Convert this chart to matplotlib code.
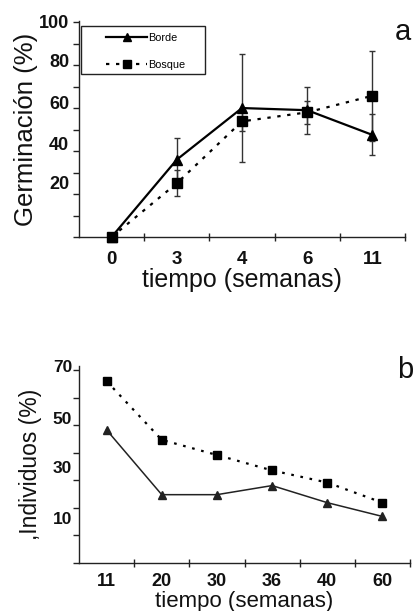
import matplotlib
matplotlib.use('Agg')
import matplotlib.pyplot as plt
from matplotlib.patches import Rectangle

plt.rcParams['font.family'] = ['Liberation Sans', 'DejaVu Sans']

# Panel a: germinación
semanas_a = ['0', '3', '4', '6', '11']
borde_a = [0, 36, 60, 59, 47.5]
bosque_a = [0, 25, 53.8, 58, 65.7]
err_borde_a = [0, 10, 25, 11, 9.5]
err_bosque_a = [0, 6, 4.5, 5.5, 21]

# Panel b: individuos
semanas_b = ['11', '20', '30', '36', '40', '60']
borde_b = [48.3, 24.8, 24.8, 28.1, 21.9, 16.9]
bosque_b = [66.0, 44.7, 39.2, 33.6, 29.2, 21.9]

# y tick labels sit a bit off the tick marks in the original
ylab_a = ['100', '80', '60', '40', '20']
ylab_a_pos = [100.5, 82, 62.5, 43.5, 25.5]
ylab_b = ['70', '50', '30', '10']
ylab_b_pos = [71.5, 52.5, 34.8, 16.4]

W, H = 413, 611
fig = plt.figure(figsize=(W / 100, H / 100), dpi=100)
ink = '#111111'


def px_axes(left, top, right, bottom):
    return fig.add_axes([left / W, 1 - bottom / H, (right - left) / W, (bottom - top) / H])


def style_axes(ax, n, ymax, ystep, ylabels, ylabel_pos, ysize, xsize, xpad, ypad):
    ax.spines['top'].set_visible(False)
    ax.spines['right'].set_visible(False)
    for s in ['left', 'bottom']:
        ax.spines[s].set_color('#222222')
        ax.spines[s].set_linewidth(1)
    ax.set_xlim(-0.5, n - 0.5)
    ax.set_ylim(0, ymax)
    # tick marks (minor) and labels (major, no marks)
    ax.set_xticks([i + 0.5 for i in range(n)], minor=True)
    ax.set_yticks(list(range(0, ymax + 1, ystep)), minor=True)
    ax.tick_params(axis='x', which='minor', direction='inout', length=6, width=1, color='#222222')
    ax.tick_params(axis='y', which='minor', direction='out', length=4, width=1, color='#222222')
    ax.set_yticks(ylabel_pos)
    ax.set_yticklabels(ylabels, fontsize=ysize, fontweight='bold', color=ink)
    ax.tick_params(axis='y', which='major', length=0, pad=ypad)
    ax.tick_params(axis='x', which='major', length=0, pad=xpad, labelsize=xsize)
    for t in ax.get_xticklabels():
        t.set_fontweight('bold')
        t.set_color(ink)


# ---- panel a ----
ax1 = px_axes(79, 21, 405, 237)
x_a = list(range(len(semanas_a)))
ax1.errorbar(x_a, borde_a, yerr=err_borde_a, color='black', lw=1.6, marker='^', ms=6.5,
             ecolor='#333333', elinewidth=1, capsize=2.5, capthick=1, clip_on=False, label='Borde', zorder=3)
ax1.errorbar(x_a, bosque_a, yerr=err_bosque_a, color='black', lw=1.6, ls=(0, (1.5, 3)), marker='s', ms=7,
             ecolor='#333333', elinewidth=1, capsize=2.5, capthick=1, clip_on=False, label='Bosque', zorder=3)
ax1.set_xticks(x_a)
ax1.set_xticklabels(semanas_a)
style_axes(ax1, len(semanas_a), 100, 10, ylab_a, ylab_a_pos, 13, 13.5, 10, 7)
ax1.set_xlabel('tiempo (semanas)', fontsize=18, color=ink, labelpad=0)
ax1.set_ylabel('Germinación (%)', fontsize=18.5, color=ink, labelpad=1)

# legend box drawn separately so padding matches the original
ax1.add_patch(Rectangle((0.006, 0.755), 0.381, 0.222, transform=ax1.transAxes,
                        fill=False, edgecolor='#222222', lw=1, clip_on=False))
handles, labels = ax1.get_legend_handles_labels()
handles = [h[0] for h in handles]
ax1.legend(handles, labels, loc='upper left', bbox_to_anchor=(0.083, 0.945), frameon=False,
           fontsize=7.8, handlelength=3.8, handletextpad=0.1, borderpad=0, borderaxespad=0,
           labelspacing=1.6, numpoints=1, markerscale=0.8)

fig.text(403 / W, 1 - 32 / H, 'a', fontsize=21, ha='center', va='center', color=ink)

# ---- panel b ----
ax2 = px_axes(79, 366, 410, 563)
x_b = list(range(len(semanas_b)))
ax2.plot(x_b, borde_b, color='#222222', lw=1.1, marker='^', ms=6, clip_on=False)
ax2.plot(x_b, bosque_b, color='black', lw=1.6, ls=(0, (1.2, 3)), marker='s', ms=6, clip_on=False)
ax2.set_xticks(x_b)
ax2.set_xticklabels(semanas_b)
style_axes(ax2, len(semanas_b), 70, 10, ylab_b, ylab_b_pos, 12.5, 13, 7, 5)
ax2.set_xlabel('tiempo (semanas)', fontsize=16, color=ink, labelpad=1)
ax2.set_ylabel(',Individuos (%)', fontsize=16.5, color=ink, labelpad=8)

fig.text(405 / W, 1 - 370 / H, 'b', fontsize=21, ha='center', va='center', color=ink)

fig.savefig('out.png', dpi=100, facecolor='white')
